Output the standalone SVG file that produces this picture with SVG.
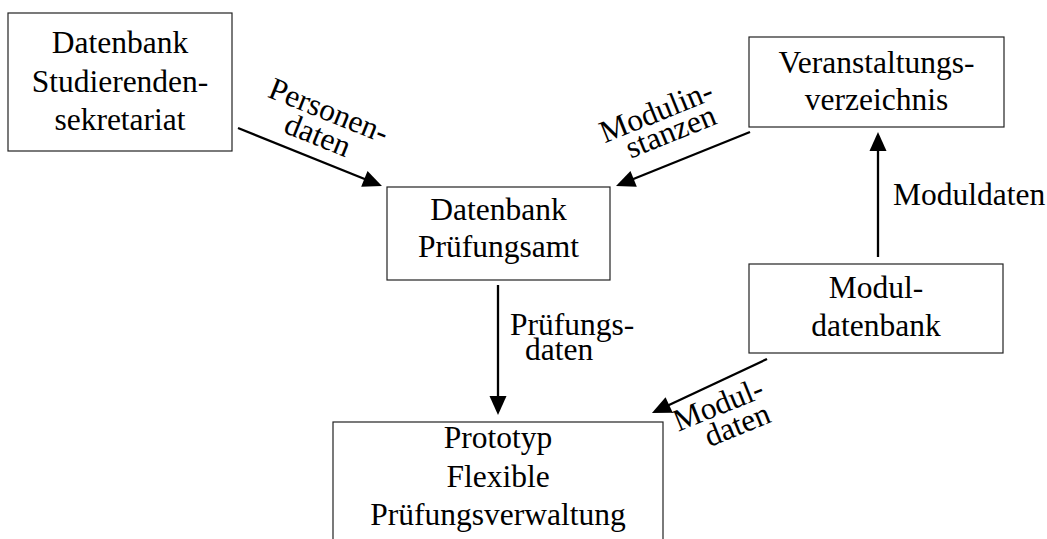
<svg xmlns="http://www.w3.org/2000/svg" width="1047" height="539" viewBox="0 0 1047 539">
<defs>
<marker id="ah" markerUnits="userSpaceOnUse" markerWidth="24" markerHeight="24" viewBox="-12 -12 24 24" refX="0" refY="0" orient="auto">
<path d="M-9,-8.5 L10,0 L-9,8.5 Z" fill="#000"/>
</marker>
<style>
.box{fill:#fff;stroke:#222;stroke-width:1.2}
.t{font-family:"Liberation Serif","Times New Roman",serif;font-size:31.5px;fill:#000}
.c{text-anchor:middle}
.edge{stroke:#000;stroke-width:2.3;fill:none;marker-end:url(#ah)}
</style>
</defs>
<rect width="1047" height="539" fill="#fff"/>
<g id="connectors">
<line class="edge" x1="238" y1="128" x2="372.7" y2="182.3"/>
<line class="edge" x1="750" y1="132" x2="625.3" y2="182.3"/>
<line class="edge" x1="498" y1="285" x2="498" y2="405"/>
<line class="edge" x1="878" y1="257" x2="878" y2="142"/>
<line class="edge" x1="767" y1="359" x2="661" y2="408.8"/>
<g transform="translate(325,120) rotate(22)"><text class="t c" x="0" y="0">Personen-</text><text class="t c" x="-1" y="27">daten</text></g>
<g transform="translate(660,121) rotate(-22)"><text class="t c" x="0" y="0">Modulin-</text><text class="t c" x="6" y="24">stanzen</text></g>
<text class="t" x="510" y="335">Prüfungs-</text>
<text class="t" x="525" y="360">daten</text>
<text class="t" x="893" y="205">Moduldaten</text>
<g transform="translate(722,414) rotate(-22)"><text class="t c" x="0" y="0">Modul-</text><text class="t c" x="10" y="26">daten</text></g>
</g>
<g id="n1"><rect class="box" x="8" y="13" width="224" height="138"/>
<text class="t c" x="120" y="53">Datenbank</text><text class="t c" x="120" y="92">Studierenden-</text><text class="t c" x="120" y="130">sekretariat</text></g>
<g id="n2"><rect class="box" x="387" y="187" width="223" height="93"/>
<text class="t c" x="498.5" y="220">Datenbank</text><text class="t c" x="498.5" y="257">Prüfungsamt</text></g>
<g id="n3"><rect class="box" x="333" y="422" width="330" height="140"/>
<text class="t c" x="498" y="448">Prototyp</text><text class="t c" x="498" y="487">Flexible</text><text class="t c" x="498" y="525">Prüfungsverwaltung</text></g>
<g id="n4"><rect class="box" x="749" y="37" width="255" height="90"/>
<text class="t c" x="876.5" y="73">Veranstaltungs-</text><text class="t c" x="876.5" y="110">verzeichnis</text></g>
<g id="n5"><rect class="box" x="749" y="264" width="254" height="89"/>
<text class="t c" x="876" y="298">Modul-</text><text class="t c" x="876" y="336">datenbank</text></g>
</svg>
